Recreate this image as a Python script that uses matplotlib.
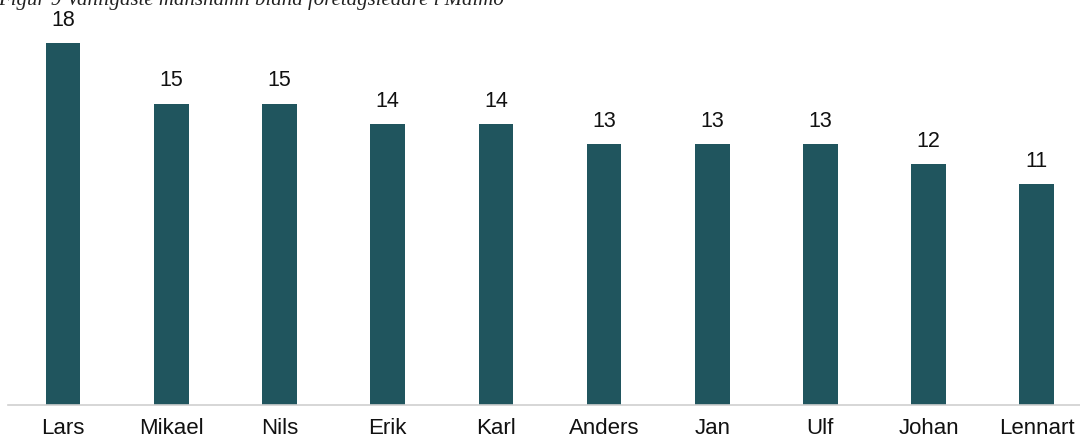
import matplotlib.pyplot as plt

# Data
names = ['Lars', 'Mikael', 'Nils', 'Erik', 'Karl', 'Anders', 'Jan', 'Ulf', 'Johan', 'Lennart']
counts = [18, 15, 15, 14, 14, 13, 13, 13, 12, 11]
caption = 'Figur 9 Vanligaste mansnamn bland företagsledare i Malmö'

bar_color = '#20555e'

fig = plt.figure(figsize=(10.8, 4.46), dpi=100)
ax = fig.add_axes([8 / 1080, 41 / 446, 1072 / 1080, 405 / 446])

x = list(range(len(names)))
bars = ax.bar(x, counts, width=0.32, color=bar_color)

# Value labels above each bar
for xi, val in zip(x, counts):
    ax.text(xi, val + 0.6, str(val), ha='center', va='bottom',
            fontsize=15.5, family='Liberation Sans', color='#111111')

ax.set_xlim(-0.51, 9.4)
ax.set_ylim(0, 20.15)
ax.set_xticks(x)
ax.set_xticklabels(names, fontsize=16, family='Liberation Sans', color='#111111')
ax.tick_params(axis='x', length=0, pad=9.5)
ax.set_yticks([])

for side in ['top', 'right', 'left']:
    ax.spines[side].set_visible(False)
ax.spines['bottom'].set_color('#d0d0d0')
ax.spines['bottom'].set_linewidth(1.2)

# Caption, clipped at the top edge of the picture
fig.text(-0.002, 1.0, caption, ha='left', va='center', fontsize=15,
         family='Liberation Serif', style='italic', color='#222222')

fig.savefig('out.png', dpi=100)
